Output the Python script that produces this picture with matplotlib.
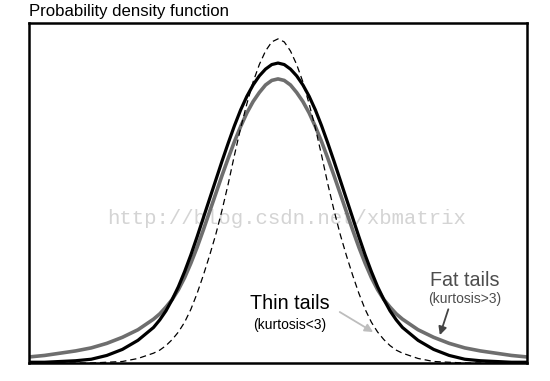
import matplotlib
matplotlib.use("Agg")
import matplotlib.pyplot as plt

plt.rcParams["font.family"] = ["Liberation Sans", "DejaVu Sans"]
plt.rcParams["lines.scale_dashes"] = False

# x positions (in sigma units)
x_vals = [-4.0, -3.75, -3.5, -3.25, -3.0, -2.75, -2.5, -2.25,
          -2.0, -1.9, -1.8, -1.7, -1.6, -1.5, -1.4, -1.3, -1.2, -1.1,
          -1.0, -0.9, -0.8, -0.7, -0.6, -0.5, -0.4, -0.3, -0.2, -0.1,
          0.0,
          0.1, 0.2, 0.3, 0.4, 0.5, 0.6, 0.7, 0.8, 0.9, 1.0,
          1.1, 1.2, 1.3, 1.4, 1.5, 1.6, 1.7, 1.8, 1.9, 2.0,
          2.25, 2.5, 2.75, 3.0, 3.25, 3.5, 3.75, 4.0]

# normal curve (solid black)
normal_y = [0.001, 0.001, 0.002, 0.003, 0.005, 0.010, 0.018, 0.030,
            0.047, 0.057, 0.069, 0.084, 0.101, 0.121, 0.143, 0.167, 0.192, 0.217,
            0.242, 0.267, 0.291, 0.314, 0.335, 0.353, 0.368, 0.380, 0.389, 0.395,
            0.397,
            0.395, 0.389, 0.380, 0.368, 0.353, 0.335, 0.314, 0.291, 0.267, 0.242,
            0.217, 0.192, 0.167, 0.143, 0.121, 0.101, 0.084, 0.069, 0.057, 0.047,
            0.030, 0.018, 0.010, 0.005, 0.003, 0.002, 0.001, 0.001]

# fat tails (gray)
fat_y = [0.008, 0.010, 0.013, 0.016, 0.020, 0.026, 0.034, 0.044,
         0.058, 0.065, 0.074, 0.084, 0.097, 0.113, 0.132, 0.153, 0.176, 0.200,
         0.224, 0.248, 0.271, 0.293, 0.313, 0.331, 0.346, 0.358, 0.368, 0.374,
         0.376,
         0.374, 0.368, 0.358, 0.346, 0.331, 0.313, 0.293, 0.271, 0.248, 0.224,
         0.200, 0.176, 0.153, 0.132, 0.113, 0.097, 0.084, 0.074, 0.065, 0.058,
         0.044, 0.034, 0.026, 0.020, 0.016, 0.013, 0.010, 0.008]

# thin tails (dashed)
thin_y = [0.0, 0.0, 0.0, 0.0, 0.0, 0.001, 0.002, 0.006,
          0.013, 0.017, 0.023, 0.031, 0.041, 0.054, 0.071, 0.092, 0.116, 0.142,
          0.170, 0.202, 0.237, 0.275, 0.311, 0.343, 0.372, 0.395, 0.413, 0.425,
          0.429,
          0.425, 0.413, 0.395, 0.372, 0.343, 0.311, 0.275, 0.237, 0.202, 0.170,
          0.142, 0.116, 0.092, 0.071, 0.054, 0.041, 0.031, 0.023, 0.017, 0.013,
          0.006, 0.002, 0.001, 0.0, 0.0, 0.0, 0.0, 0.0]

fig = plt.figure(figsize=(5.5, 3.81), dpi=100)
ax = fig.add_axes([29/550, 18/381, 498/550, 340/381])

# watermark sits under the curves
ax.text(0.518, 0.424, "http://blog.csdn.net/xbmatrix", transform=ax.transAxes,
        family="Liberation Mono", fontsize=14.9, color="#d4d4d4",
        ha="center", va="center", zorder=0)

ax.plot(x_vals, fat_y, color="#6e6e6e", lw=2.6, zorder=2)
ax.plot(x_vals, thin_y, color="black", lw=0.9, dashes=(4.5, 2.8), zorder=3)
ax.plot(x_vals, normal_y, color="black", lw=2.3, zorder=4)

ax.set_xlim(-4, 4)
ax.set_ylim(0, 0.45)
ax.set_xticks([])
ax.set_yticks([])
for s in ax.spines.values():
    s.set_linewidth(1.8)

fig.text(29/550, 1 - 16/381, "Probability density function", fontsize=12.1,
         ha="left", va="baseline")

ax.text(0.524, 0.176, "Thin tails", transform=ax.transAxes, fontsize=14.2,
        ha="center", va="center")
ax.text(0.524, 0.112, "(kurtosis<3)", transform=ax.transAxes, fontsize=10,
        ha="center", va="center")
ax.annotate("", xy=(0.691, 0.091), xytext=(0.624, 0.150),
            xycoords="axes fraction", textcoords="axes fraction",
            arrowprops=dict(arrowstyle="-|>", color="#bdbdbd", lw=1.3,
                            mutation_scale=12, shrinkA=0, shrinkB=0))

ax.text(0.875, 0.244, "Fat tails", transform=ax.transAxes, fontsize=14.2,
        ha="center", va="center", color="#4d4d4d")
ax.text(0.875, 0.188, "(kurtosis>3)", transform=ax.transAxes, fontsize=10,
        ha="center", va="center", color="#4d4d4d")
ax.annotate("", xy=(0.825, 0.082), xytext=(0.842, 0.158),
            xycoords="axes fraction", textcoords="axes fraction",
            arrowprops=dict(arrowstyle="-|>", color="#444444", lw=1.3,
                            mutation_scale=12, shrinkA=0, shrinkB=0))

fig.savefig("out.png", dpi=100)
